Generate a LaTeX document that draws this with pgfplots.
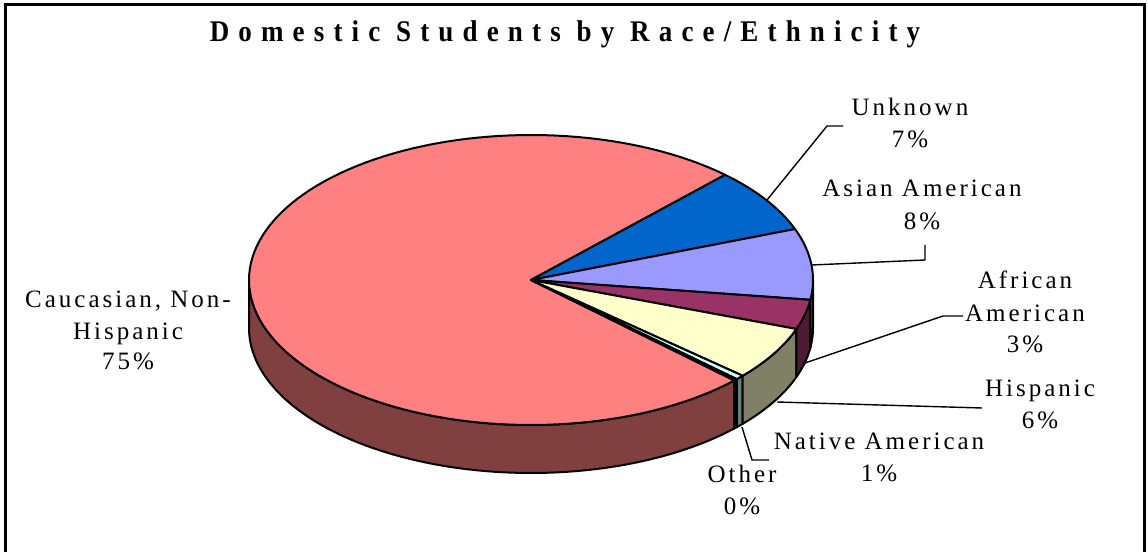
\documentclass[border=0pt]{standalone}
\usepackage{pgfplots}
\pgfplotsset{compat=1.18}
\usepackage{pgfplotstable}
\usepackage{fontspec}
\setmainfont{Liberation Serif}
\newfontfamily\labfont{Liberation Serif}[LetterSpace=12]
\newfontfamily\titfont{Liberation Serif}[LetterSpace=30.5,FakeStretch=0.9]

\definecolor{cCau}{HTML}{FF8080}\definecolor{sCau}{HTML}{804040}
\definecolor{cUnk}{HTML}{0066CC}\definecolor{sUnk}{HTML}{003366}
\definecolor{cAsi}{HTML}{9999FF}\definecolor{sAsi}{HTML}{4D4D80}
\definecolor{cAfr}{HTML}{993366}\definecolor{sAfr}{HTML}{4D1A33}
\definecolor{cHis}{HTML}{FFFFCC}\definecolor{sHis}{HTML}{808066}
\definecolor{cNat}{HTML}{CCFFFF}\definecolor{sNat}{HTML}{668080}
\definecolor{cOth}{HTML}{660066}\definecolor{sOth}{HTML}{330033}

% share of each slice, in per cent, clockwise from the Unknown slice
\pgfplotstableread{
slice     pct
Unknown   7.2
Asian     7.9
African   3.3
Hispanic  6.0
Native    0.5
Other     0.2
Caucasian 74.9
}\piedata

\def\cx{531}\def\cy{272}\def\rx{282}\def\ry{145}\def\dep{48}\def\startang{46.5}

\pgfmathsetmacro\eA{\startang}%
\pgfplotstablegetelem{0}{pct}\of\piedata\pgfmathsetmacro\eB{\eA-3.6*\pgfplotsretval}%
\pgfplotstablegetelem{1}{pct}\of\piedata\pgfmathsetmacro\eC{\eB-3.6*\pgfplotsretval}%
\pgfplotstablegetelem{2}{pct}\of\piedata\pgfmathsetmacro\eD{\eC-3.6*\pgfplotsretval}%
\pgfplotstablegetelem{3}{pct}\of\piedata\pgfmathsetmacro\eE{\eD-3.6*\pgfplotsretval}%
\pgfplotstablegetelem{4}{pct}\of\piedata\pgfmathsetmacro\eF{\eE-3.6*\pgfplotsretval}%
\pgfplotstablegetelem{5}{pct}\of\piedata\pgfmathsetmacro\eG{\eF-3.6*\pgfplotsretval}%
\pgfplotstablegetelem{6}{pct}\of\piedata\pgfmathsetmacro\eH{\eG-3.6*\pgfplotsretval}%

\newcommand\topface[3]{%
  \addplot[fill=#3, draw=black, line width=1pt, line join=round, domain=#1:#2, samples=120]
    ({\cx+\rx*cos(x)},{\cy+\ry*sin(x)}) -- (axis cs:\cx,\cy) -- cycle;}
\newcommand\sideface[3]{%
  \addplot[fill=#3, draw=black, line width=1pt, line join=round, domain=0:200, samples=201]
    ({\cx+\rx*cos(x<100.5 ? (#1)+((#2)-(#1))*x/100 : (#2)-((#2)-(#1))*(x-101)/99)},
     {\cy+\ry*sin(x<100.5 ? (#1)+((#2)-(#1))*x/100 : (#2)-((#2)-(#1))*(x-101)/99)-(x<100.5 ? 0 : \dep)}) -- cycle;}
\newcommand\lab[3]{\node[anchor=base, inner sep=0pt, font=\labfont\fontsize{12.5}{15}\selectfont] at (axis cs:#1,#2) {#3};}
\newcommand\leader[1]{\addplot[black, line width=0.7pt, mark=none] coordinates {#1};}

\begin{document}%
\begin{tikzpicture}
\begin{axis}[name=ax, scale only axis, width=574pt, height=276pt,
  xmin=0, xmax=1148, ymin=0, ymax=552, hide axis, clip=false]
  % side walls (front half only)
  \sideface{-180}{\eG}{sCau}
  \sideface{\eG}{\eF}{sOth}
  \sideface{\eF}{\eE}{sNat}
  \sideface{\eE}{\eD}{sHis}
  \sideface{\eD}{\eC}{sAfr}
  \sideface{\eC}{0}{sAsi}
  % top faces
  \topface{\eH}{\eG}{cCau}
  \topface{\eB}{\eA}{cUnk}
  \topface{\eC}{\eB}{cAsi}
  \topface{\eD}{\eC}{cAfr}
  \topface{\eE}{\eD}{cHis}
  \topface{\eF}{\eE}{cNat}
  \topface{\eG}{\eF}{cOth}
  % leader lines
  \leader{(767,352) (827,426) (843,426)}
  \leader{(812,287) (925,292) (925,307)}
  \leader{(805,189) (943,236) (963,236)}
  \leader{(777,150) (982,144)}
  \leader{(742,125) (752,92) (769,92)}
  % labels
  \lab{910}{436}{Unknown}\lab{910}{404}{7\%}
  \lab{922}{355}{Asian American}\lab{922}{322}{8\%}
  \lab{1025}{263}{African}\lab{1025}{230}{American}\lab{1025}{199}{3\%}
  \lab{1040}{155}{Hispanic}\lab{1040}{123}{6\%}
  \lab{879}{102}{Native American}\lab{879}{70}{1\%}
  \lab{742}{69}{Other}\lab{742}{37}{0\%}
  \lab{128}{244}{Caucasian, Non-}\lab{128}{212}{Hispanic}\lab{128}{182}{75\%}
  \node[anchor=base, inner sep=0pt, font=\titfont\bfseries\fontsize{15}{18}\selectfont]
    at (axis cs:565,510) {Domestic Students by Race/Ethnicity};
  \draw[line width=1.5pt] (axis cs:5,0) -- (axis cs:5,547) -- (axis cs:1144,547) -- (axis cs:1144,0);
\end{axis}
\pgfresetboundingbox
\useasboundingbox (ax.south west) rectangle (ax.north east);
\end{tikzpicture}%
\end{document}
